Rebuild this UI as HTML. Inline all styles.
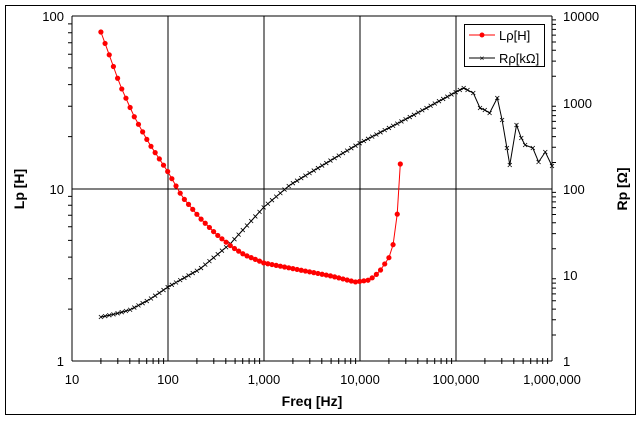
<!DOCTYPE html>
<html><head><meta charset="utf-8"><style>
body{margin:0;background:#fff}
svg{display:block;font-family:"Liberation Sans",sans-serif}
</style></head><body>
<svg id="s" width="642" height="421" viewBox="0 0 642 421">
<rect x="5.5" y="5.5" width="630" height="409" fill="#fff" stroke="#000"/>
<g id="grid" stroke="#000" stroke-width="1" fill="none"></g>
<g font-size="13" fill="#000">
<text x="64" y="21" text-anchor="end">100</text>
<text x="64" y="194" text-anchor="end">10</text>
<text x="64" y="366" text-anchor="end">1</text>
<text x="563" y="21">10000</text>
<text x="563" y="108">1000</text>
<text x="563" y="194">100</text>
<text x="563" y="280">10</text>
<text x="563" y="366">1</text>
<text x="72" y="384" text-anchor="middle">10</text>
<text x="168" y="384" text-anchor="middle">100</text>
<text x="264" y="384" text-anchor="middle">1,000</text>
<text x="360" y="384" text-anchor="middle">10,000</text>
<text x="456" y="384" text-anchor="middle">100,000</text>
<text x="552" y="384" text-anchor="middle">1,000,000</text>
</g>
<text x="312" y="406" font-size="14" font-weight="bold" text-anchor="middle">Freq [Hz]</text>
<text transform="translate(24,189) rotate(-90)" font-size="14" font-weight="bold" text-anchor="middle">Lp [H]</text>
<text transform="translate(627,189) rotate(-90)" font-size="14" font-weight="bold" text-anchor="middle">Rp [Ω]</text>
<g id="series"></g>
<rect x="464.5" y="24.5" width="80" height="42" fill="#fff" stroke="#000"/>
<line x1="469" y1="35" x2="495" y2="35" stroke="#f00"/><circle cx="482" cy="35" r="2.5" fill="#f00"/>
<line x1="469" y1="58" x2="495" y2="58" stroke="#000"/><text x="482" y="61" font-size="8" text-anchor="middle">×</text>
<text x="499" y="40" font-size="13" fill="#000">Lρ[H]</text>
<text x="499" y="63" font-size="13" fill="#000">Rρ[kΩ]</text>
</svg>
<script>
var ns="http://www.w3.org/2000/svg",g=document.getElementById("grid"),S=document.getElementById("series");
function X(l){return 72+(l-1)*96}
var d="";
for(var i=0;i<=5;i++){var x=X(1+i);d+="M"+x+" 16V361";}
d+="M72 16H552M72 189H552M72 361H552";
for(var dec=0;dec<5;dec++)for(var k=2;k<10;k++){var x=X(1+dec+Math.log10(k));d+="M"+x.toFixed(1)+" 358V364";}
for(var dec=0;dec<2;dec++)for(var k=2;k<10;k++){var y=361-dec*172.5-Math.log10(k)*172.5;d+="M68 "+y.toFixed(1)+"H72";}
for(var dec=0;dec<4;dec++)for(var k=2;k<10;k++){var y=361-dec*86.25-Math.log10(k)*86.25;d+="M552 "+y.toFixed(1)+"H556";}
var p=document.createElementNS(ns,"path");p.setAttribute("d",d);g.appendChild(p);
function interp(K,l){for(var i=0;i<K.length-1;i++){if(l<=K[i+1][0]){var t=(l-K[i][0])/(K[i+1][0]-K[i][0]);return K[i][1]+t*(K[i+1][1]-K[i][1]);}}return K[K.length-1][1];}
var LK=[[1.301,32],[1.4,58],[1.5,85],[1.65,117],[1.8,143],[2,172],[2.15,197],[2.333,218],[2.5,234],[2.667,247],[2.8,255],[3,263],[3.375,270],[3.7,276],[3.95,282],[4.1,280],[4.2,272],[4.3,258],[4.35,243],[4.4,205],[4.42,164]];
var RK=[[1.301,317],[1.45,314],[1.6,310],[1.8,300],[2,287],[2.333,269],[2.646,244],[3,207],[3.27,185],[3.58,167],[4,143],[4.5,118],[5,92]];
var RN=[[5.04,90],[5.08,88],[5.12,90],[5.18,93],[5.25,108],[5.3,110],[5.35,113],[5.43,98],[5.48,120],[5.53,148],[5.56,165],[5.63,125],[5.68,138],[5.72,145],[5.8,148],[5.86,162],[5.93,152],[6,166]];
var lp=[],rp=[];
for(var l=1.301;l<=4.421;l+=1/23)lp.push([X(l),interp(LK,l)]);
lp.push([X(4.42),164]);
for(var l=1.301;l<=5.0;l+=1/23)rp.push([X(l),interp(RK,l)]);
RN.forEach(function(a){rp.push([X(a[0]),a[1]])});
function poly(pts,c){var e=document.createElementNS(ns,"polyline");e.setAttribute("points",pts.map(function(a){return a[0].toFixed(1)+","+a[1].toFixed(1)}).join(" "));e.setAttribute("fill","none");e.setAttribute("stroke",c);S.appendChild(e);}
poly(rp,"#000");
var xd="";rp.forEach(function(a){xd+="M"+(a[0]-2)+" "+(a[1]-2)+"l4 4M"+(a[0]-2)+" "+(a[1]+2)+"l4 -4";});
var xp=document.createElementNS(ns,"path");xp.setAttribute("d",xd);xp.setAttribute("stroke","#000");xp.setAttribute("stroke-width","0.8");S.appendChild(xp);
poly(lp,"#f00");
lp.forEach(function(a){var c=document.createElementNS(ns,"circle");c.setAttribute("cx",a[0]);c.setAttribute("cy",a[1]);c.setAttribute("r","2.6");c.setAttribute("fill","#f00");S.appendChild(c);});
</script>
</body></html>
